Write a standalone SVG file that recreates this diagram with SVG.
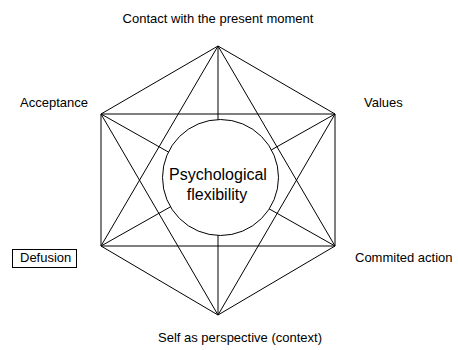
<svg xmlns="http://www.w3.org/2000/svg" width="458" height="350" viewBox="0 0 458 350">
<style>
.lbl{font-family:"Liberation Sans",Arial,sans-serif;font-size:13px;fill:#000}
.ctr{font-family:"Liberation Sans",Arial,sans-serif;font-size:16px;fill:#000;text-anchor:middle}
.e{stroke:#000;stroke-width:1;fill:none}
</style>
<rect width="458" height="350" fill="#fff"/>
<g id="connectors">
<line class="e" x1="218" y1="46" x2="335" y2="114"/>
<line class="e" x1="335" y1="114" x2="335" y2="246"/>
<line class="e" x1="335" y1="246" x2="218" y2="315"/>
<line class="e" x1="218" y1="315" x2="101" y2="246"/>
<line class="e" x1="101" y1="246" x2="101" y2="114"/>
<line class="e" x1="101" y1="114" x2="218" y2="46"/>
<line class="e" x1="218" y1="46" x2="335" y2="246"/>
<line class="e" x1="218" y1="46" x2="101" y2="246"/>
<line class="e" x1="335" y1="114" x2="218" y2="315"/>
<line class="e" x1="101" y1="114" x2="218" y2="315"/>
<line class="e" x1="101" y1="114" x2="335" y2="114"/>
<line class="e" x1="101" y1="246" x2="335" y2="246"/>
<line class="e" x1="218" y1="46" x2="218" y2="315"/>
<line class="e" x1="101" y1="114" x2="335" y2="246"/>
<line class="e" x1="335" y1="114" x2="101" y2="246"/>
</g>
<g id="center">
<circle cx="220.5" cy="177.5" r="58" fill="#fff" stroke="#000" stroke-width="1"/>
<text class="ctr" x="218" y="180">Psychological</text>
<text class="ctr" x="217" y="200">flexibility</text>
</g>
<g id="contact"><text class="lbl" x="218" y="23" text-anchor="middle">Contact with the present moment</text></g>
<g id="acceptance"><text class="lbl" x="20" y="107">Acceptance</text></g>
<g id="values"><text class="lbl" x="364" y="107">Values</text></g>
<g id="defusion">
<rect x="12.5" y="249.5" width="64" height="18" fill="#fff" stroke="#000" stroke-width="1"/>
<text class="lbl" x="20" y="262">Defusion</text>
</g>
<g id="commited"><text class="lbl" x="355" y="262">Commited action</text></g>
<g id="self"><text class="lbl" x="158" y="342">Self as perspective (context)</text></g>
</svg>
